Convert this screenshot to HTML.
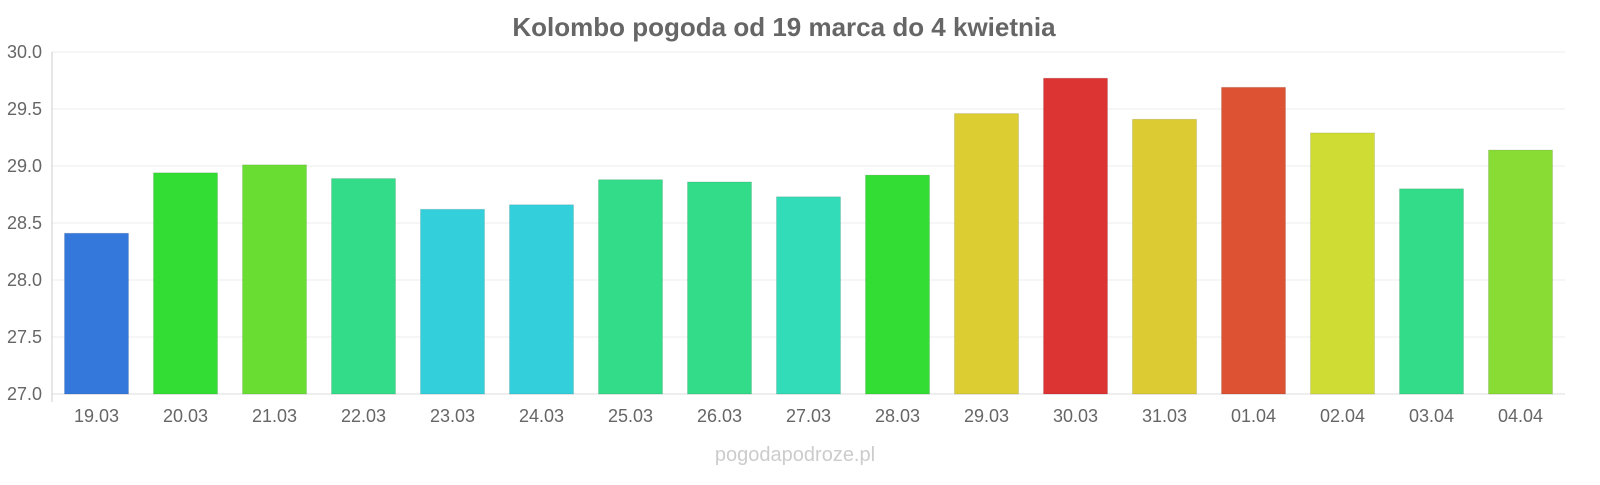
<!DOCTYPE html>
<html><head><meta charset="utf-8">
<style>
body{margin:0;background:#fff;width:1600px;height:480px;overflow:hidden;font-family:"Liberation Sans",sans-serif}
</style></head>
<body>
<svg id="chart" width="1600" height="480" xmlns="http://www.w3.org/2000/svg">
<text x="784" y="36" text-anchor="middle" font-size="26" font-weight="bold" fill="#666">Kolombo pogoda od 19 marca do 4 kwietnia</text>
<text x="795" y="461" text-anchor="middle" font-size="20" fill="#ccc">pogodapodroze.pl</text>
<g id="grid"></g><g id="bars"></g><g id="xlabels"></g>
</svg>
<script>
const categories=["19.03","20.03","21.03","22.03","23.03","24.03","25.03","26.03","27.03","28.03","29.03","30.03","31.03","01.04","02.04","03.04","04.04"];
const values=[28.41,28.94,29.01,28.89,28.62,28.66,28.88,28.86,28.73,28.92,29.46,29.77,29.41,29.69,29.29,28.80,29.14];
const colors=["#3478dc","#33dd33","#6add33","#33dc88","#33d0dc","#33d0dc","#33dc88","#33dc88","#33dcb8","#33dd33","#dccd33","#dc3333","#dccb33","#dc5233","#cfdc33","#33dc88","#88dc33"];
const ticks=[27.0,27.5,28.0,28.5,29.0,29.5,30.0];
const NS="http://www.w3.org/2000/svg";
const x0=52,x1=1565,yTop=52,yBot=394,vMin=27,vMax=30;
const y=v=>yBot-(v-vMin)/(vMax-vMin)*(yBot-yTop);
const slot=(x1-x0)/categories.length;
const xc=i=>x0+slot*(i+0.5);
function mk(tag,attrs,parent){const e=document.createElementNS(NS,tag);for(const k in attrs)e.setAttribute(k,attrs[k]);parent.appendChild(e);return e;}
const g=document.getElementById('grid'),b=document.getElementById('bars'),xl=document.getElementById('xlabels');
ticks.forEach(t=>{
  const l=mk('line',{x1:x0,x2:x1,y1:y(t),y2:y(t),stroke:'#eee','stroke-width':1},g);
  
  
  const tx=mk('text',{x:42,y:y(t)+6,'text-anchor':'end','font-size':18,fill:'#666'},g);
  tx.textContent=t.toFixed(1);
  
  
});
const ax=mk('line',{x1:x0,x2:x0,y1:yTop,y2:yBot+8,stroke:'#ccc'},g);


const bx=mk('line',{x1:x0,x2:x1,y1:yBot,y2:yBot,stroke:'#ddd'},g);


const bw=64;
values.forEach((v,i)=>{
  const r=mk('rect',{x:xc(i)-bw/2,y:y(v),width:bw,height:yBot-y(v),fill:colors[i],stroke:'rgba(0,0,0,0.1)'},b);
  
  
  const t=mk('text',{x:xc(i),y:422,'text-anchor':'middle','font-size':18,fill:'#666'},xl);
  t.textContent=categories[i];
  
  
});
</script>
</body></html>
